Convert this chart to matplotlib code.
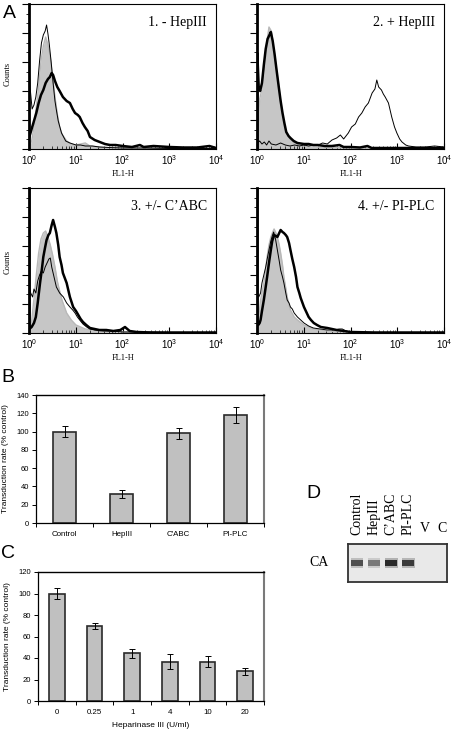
import numpy as np
import matplotlib
matplotlib.use("Agg")
import matplotlib.pyplot as plt
from matplotlib.ticker import MultipleLocator, LogLocator

plt.rcParams['font.family'] = 'sans-serif'
plt.rcParams['font.sans-serif'] = ['Liberation Sans', 'DejaVu Sans']
plt.rcParams['font.serif'] = ['Liberation Serif', 'DejaVu Serif']
plt.rcParams['mathtext.fontset'] = 'stix'

W, H = 453, 732

# --- panel A: flow histograms (FL1-H in decades, counts) ---
a1_gray_x = [0.0, 0.05, 0.1, 0.15, 0.2, 0.25, 0.3, 0.35, 0.4, 0.45, 0.5, 0.55, 0.6, 0.65, 0.7, 0.8, 0.9, 1.0, 1.1, 1.2, 1.3, 1.5, 1.8, 2.2, 3.0, 4.0]
a1_gray_y = [2, 8, 22, 42, 62, 88, 103, 112, 104, 92, 72, 52, 35, 22, 15, 8, 5, 4, 5, 6, 3, 2, 1, 1, 0.5, 0.5]
a1_thin_x = [0.0, 0.02, 0.06, 0.1, 0.14, 0.18, 0.22, 0.26, 0.3, 0.34, 0.37, 0.4, 0.43, 0.47, 0.51, 0.55, 0.58, 0.62, 0.69, 0.78, 0.87, 1.0, 1.1, 1.2, 1.35, 1.5, 1.7, 2.0, 2.5, 3.0, 3.5, 4.0]
a1_thin_y = [82, 60, 40, 44, 52, 66, 88, 106, 114, 118, 124, 115, 104, 86, 66, 48, 39, 28, 16, 8, 6, 4, 4, 3, 3, 2, 1.5, 1, 1, 0.5, 0.5, 0.5]
a1_thick_x = [0.0, 0.05, 0.1, 0.15, 0.2, 0.25, 0.3, 0.35, 0.4, 0.44, 0.48, 0.51, 0.55, 0.6, 0.65, 0.72, 0.8, 0.87, 0.93, 0.98, 1.04, 1.08, 1.14, 1.19, 1.25, 1.3, 1.4, 1.51, 1.62, 1.73, 1.85, 2.0, 2.2, 2.37, 2.45, 2.66, 3.0, 3.3, 3.6, 3.86, 4.0]
a1_thick_y = [12, 20, 28, 36, 46, 54, 59, 66, 70, 72, 76, 74, 68, 62, 58, 52, 48, 46, 40, 36, 34, 32, 26, 22, 18, 12, 9, 7, 5, 4, 4, 3, 2, 4, 2, 3, 2, 1.5, 1.5, 3, 1]

a2_gray_x = [0.0, 0.05, 0.1, 0.15, 0.2, 0.25, 0.3, 0.35, 0.4, 0.45, 0.5, 0.55, 0.6, 0.65, 0.7, 0.8, 0.9, 1.0, 1.2, 1.5, 2.0, 3.0, 4.0]
a2_gray_y = [10, 50, 60, 80, 105, 122, 118, 100, 84, 66, 48, 32, 20, 14, 10, 6, 4, 3, 2, 1.5, 1, 0.5, 0.5]
a2_thin_x = [0.0, 0.05, 0.1, 0.15, 0.2, 0.25, 0.3, 0.4, 0.5, 0.6, 0.7, 0.8, 0.9, 1.0, 1.1, 1.2, 1.3, 1.4, 1.5, 1.6, 1.7, 1.78, 1.85, 1.95, 2.02, 2.1, 2.17, 2.24, 2.31, 2.38, 2.46, 2.52, 2.56, 2.6, 2.66, 2.7, 2.74, 2.81, 2.88, 2.94, 2.99, 3.05, 3.1, 3.18, 3.24, 3.4, 3.6, 3.8, 4.0]
a2_thin_y = [6, 8, 5, 7, 4, 8, 5, 4, 6, 4, 3, 4, 3, 4, 3, 4, 4, 6, 5, 9, 11, 14, 10, 16, 22, 25, 32, 36, 42, 46, 56, 60, 69, 62, 59, 55, 52, 46, 32, 22, 16, 10, 7, 4, 3, 2, 2, 3, 2]
a2_thick_x = [0.0, 0.0, 0.03, 0.06, 0.1, 0.14, 0.18, 0.22, 0.26, 0.29, 0.33, 0.37, 0.41, 0.46, 0.5, 0.54, 0.58, 0.62, 0.67, 0.71, 0.78, 0.86, 1.0, 1.1, 1.2, 1.3, 1.45, 1.6, 1.76, 1.85, 2.0, 2.2, 2.36, 2.45, 2.9, 3.3, 3.7, 4.0]
a2_thick_y = [0, 96, 62, 58, 66, 84, 100, 110, 114, 117, 108, 95, 80, 62, 48, 36, 26, 17, 13, 11, 8, 6, 5, 5, 4, 4, 3, 3, 4, 2, 2, 1.5, 3, 1, 1, 1, 1, 1]

a3_gray_x = [0.0, 0.05, 0.1, 0.15, 0.2, 0.25, 0.3, 0.35, 0.4, 0.45, 0.5, 0.55, 0.6, 0.65, 0.7, 0.8, 0.9, 1.0, 1.1, 1.2, 1.4, 1.6, 2.0, 3.0, 4.0]
a3_gray_y = [4, 12, 34, 58, 80, 94, 100, 102, 96, 88, 78, 66, 52, 42, 33, 20, 13, 8, 6, 4, 3, 2, 1, 0.5, 0.5]
a3_thin_x = [0.0, 0.03, 0.07, 0.1, 0.14, 0.18, 0.22, 0.26, 0.3, 0.34, 0.38, 0.42, 0.45, 0.48, 0.53, 0.58, 0.65, 0.73, 0.8, 0.87, 0.93, 0.98, 1.03, 1.08, 1.15, 1.23, 1.3, 1.4, 1.6, 1.8, 2.0, 2.5, 3.0, 4.0]
a3_thin_y = [46, 40, 36, 44, 40, 52, 58, 62, 60, 66, 70, 74, 75, 66, 56, 46, 40, 36, 30, 26, 23, 20, 16, 13, 9, 6, 4, 3, 2, 2, 1, 1, 0.5, 0.5]
a3_thick_x = [0.0, 0.0, 0.05, 0.1, 0.14, 0.18, 0.23, 0.27, 0.3, 0.34, 0.37, 0.41, 0.44, 0.48, 0.51, 0.55, 0.58, 0.62, 0.65, 0.69, 0.72, 0.76, 0.8, 0.87, 0.94, 1.0, 1.05, 1.1, 1.15, 1.22, 1.3, 1.4, 1.5, 1.65, 1.8, 1.95, 2.05, 2.15, 2.3, 2.6, 3.0, 4.0]
a3_thick_y = [150, 4, 6, 10, 16, 30, 50, 64, 76, 86, 93, 98, 100, 108, 113, 106, 100, 88, 76, 68, 60, 55, 50, 36, 26, 22, 18, 14, 11, 8, 5, 4, 3, 3, 2, 3, 6, 2, 1, 0.5, 0.5, 0.5]

a4_gray_x = [0.0, 0.03, 0.07, 0.1, 0.14, 0.18, 0.21, 0.25, 0.29, 0.33, 0.36, 0.4, 0.43, 0.47, 0.5, 0.54, 0.57, 0.61, 0.64, 0.68, 0.71, 0.79, 0.86, 1.0, 1.1, 1.2, 1.35, 1.5, 1.8, 2.2, 3.0, 4.0]
a4_gray_y = [4, 16, 33, 40, 50, 64, 76, 88, 96, 101, 104, 100, 96, 88, 80, 68, 56, 45, 36, 28, 23, 16, 13, 8, 6, 4, 3, 2, 1, 1, 0.5, 0.5]
a4_thin_x = [0.0, 0.03, 0.07, 0.1, 0.14, 0.18, 0.22, 0.25, 0.29, 0.32, 0.35, 0.39, 0.43, 0.47, 0.5, 0.54, 0.57, 0.61, 0.64, 0.68, 0.71, 0.75, 0.79, 0.86, 0.93, 1.0, 1.1, 1.2, 1.35, 1.5, 1.65, 1.75, 1.82, 1.9, 2.0, 2.5, 3.0, 4.0]
a4_thin_y = [40, 36, 40, 50, 58, 66, 76, 83, 92, 97, 101, 94, 83, 72, 63, 56, 50, 40, 33, 30, 26, 24, 20, 16, 13, 10, 7, 5, 4, 3, 3, 4, 4, 2, 1, 0.5, 0.5, 0.5]
a4_thick_x = [0.0, 0.0, 0.02, 0.05, 0.07, 0.1, 0.14, 0.18, 0.21, 0.25, 0.29, 0.32, 0.36, 0.4, 0.43, 0.47, 0.5, 0.54, 0.57, 0.61, 0.64, 0.68, 0.71, 0.75, 0.79, 0.83, 0.86, 0.9, 0.93, 1.0, 1.05, 1.1, 1.15, 1.21, 1.28, 1.36, 1.5, 1.6, 1.7, 1.85, 2.0, 2.5, 3.0, 4.0]
a4_thick_y = [150, 10, 8, 10, 13, 22, 33, 46, 56, 70, 83, 92, 98, 97, 96, 100, 103, 101, 100, 98, 96, 90, 83, 74, 66, 56, 46, 40, 35, 26, 21, 16, 13, 10, 8, 6, 5, 4, 3, 2, 1, 0.5, 0.5, 0.5]

a_titles = ['1. - HepIII', '2. + HepIII', '3. +/- C\u2019ABC', '4. +/- PI-PLC']

# --- panel B ---
b_labels = ['Control', 'HepIII', "C'ABC", 'PI-PLC']
b_values = [100, 32, 98, 118]
b_errors = [6, 4.5, 5.7, 8.4]

# --- panel C ---
c_labels = ['0', '0.25', '1', '4', '10', '20']
c_values = [100, 69.5, 44.5, 36.5, 36.5, 27.5]
c_errors = [5, 2.8, 4.2, 7, 5.1, 3.1]

# --- panel D: western blot ---
d_lanes = ['Control', 'HepIII', 'C\u2019ABC', 'PI-PLC', 'V', 'C']
d_band = [0.62, 0.42, 0.8, 0.72, 0.0, 0.0]


def box(x0, y0, x1, y1):
    return [x0 / W, 1 - y1 / H, (x1 - x0) / W, (y1 - y0) / H]


fig = plt.figure(figsize=(W / 100, H / 100), dpi=100)


def hist_panel(rect, gray, thin, thick, title, counts_y):
    ax = fig.add_axes(box(*rect))
    gx = 10 ** np.array(gray[0])
    ax.fill_between(gx, gray[1], color='#c6c6c6', lw=0)
    ax.plot(gx, gray[1], color='#b8b8b8', lw=1.0)
    ax.plot(10 ** np.array(thin[0]), thin[1], color='k', lw=0.7)
    ax.plot(10 ** np.array(thick[0]), thick[1], color='k', lw=1.8)
    ax.set_xscale('log')
    ax.set_xlim(1, 1e4)
    ax.set_ylim(0, 145)
    ax.set_xticks([1, 10, 100, 1000, 10000])
    ax.xaxis.set_minor_locator(LogLocator(base=10, subs=np.arange(2, 10)))
    ax.yaxis.set_major_locator(MultipleLocator(29))
    ax.yaxis.set_minor_locator(MultipleLocator(29 / 3))
    ax.tick_params(axis='y', which='major', direction='out', length=5, width=0.8, labelleft=False)
    ax.tick_params(axis='y', which='minor', direction='out', length=2.5, width=0.6)
    ax.tick_params(axis='x', which='major', direction='in', length=4, width=0.8, labelsize=7, pad=3)
    ax.tick_params(axis='x', which='minor', direction='in', length=2, width=0.5)
    for s in ['top', 'right', 'bottom']:
        ax.spines[s].set_linewidth(0.8)
    ax.spines['left'].set_linewidth(2.0)
    ax.text(0.95, 0.875, title, transform=ax.transAxes, ha='right', va='center',
            family='serif', fontsize=10)
    ax.text(0.5, -0.17, 'FL1-H', transform=ax.transAxes, ha='center', va='center',
            family='serif', fontsize=6)
    if counts_y is not None:
        fig.text(7.5 / W, 1 - counts_y / H, 'Counts', rotation=90, ha='center', va='center',
                 family='serif', fontsize=6)
    return ax


hist_panel((29.3, 4, 216, 149), (a1_gray_x, a1_gray_y), (a1_thin_x, a1_thin_y),
           (a1_thick_x, a1_thick_y), a_titles[0], 74)
hist_panel((257.3, 4, 444, 149), (a2_gray_x, a2_gray_y), (a2_thin_x, a2_thin_y),
           (a2_thick_x, a2_thick_y), a_titles[1], None)
hist_panel((29.3, 188, 216, 333), (a3_gray_x, a3_gray_y), (a3_thin_x, a3_thin_y),
           (a3_thick_x, a3_thick_y), a_titles[2], 262)
hist_panel((257.3, 188, 444, 333), (a4_gray_x, a4_gray_y), (a4_thin_x, a4_thin_y),
           (a4_thick_x, a4_thick_y), a_titles[3], None)


def bar_panel(rect, labels, values, errors, ymax, xlabel=None):
    ax = fig.add_axes(box(*rect))
    x = np.arange(len(labels))
    ax.bar(x, values, width=0.42, color='#c0c0c0', edgecolor='#2a2a2a', linewidth=1.2)
    ax.errorbar(x, values, yerr=errors, fmt='none', ecolor='k', elinewidth=0.7,
                capsize=2.2, capthick=0.7)
    ax.set_xlim(-0.5, len(labels) - 0.5)
    ax.set_ylim(0, ymax)
    ax.yaxis.set_major_locator(MultipleLocator(20))
    ax.set_xticks(x)
    ax.set_xticklabels(labels)
    ax.set_xticks(np.arange(len(labels) + 1) - 0.5, minor=True)
    ax.tick_params(axis='x', which='major', length=0, labelsize=5.7, pad=6)
    ax.tick_params(axis='x', which='minor', direction='out', length=3, width=0.7)
    ax.tick_params(axis='y', direction='out', length=3, width=0.7, labelsize=5.5, pad=2)
    ax.spines['left'].set_linewidth(0.9)
    ax.spines['bottom'].set_linewidth(0.9)
    ax.spines['top'].set_linewidth(1.0)
    ax.spines['right'].set_color('#7a7a7a')
    ax.spines['right'].set_linewidth(1.5)
    ax.set_ylabel('Transduction rate (% control)', fontsize=6, labelpad=5)
    if xlabel:
        ax.set_xlabel(xlabel, fontsize=6, labelpad=4)
    return ax


bar_panel((36, 395, 264, 523), b_labels, b_values, b_errors, 140)
bar_panel((38, 572, 264, 701), c_labels, c_values, c_errors, 120, 'Heparinase III (U/ml)')

# blot
ax = fig.add_axes(box(348, 544, 447, 582))
ax.set_facecolor('#e9e9e9')
ax.set_xlim(-0.53, 5.29)
ax.set_ylim(0, 1)
lanes = np.arange(len(d_lanes))
for i, a in zip(lanes, d_band):
    if a > 0:
        ax.bar(i, 0.26, bottom=0.37, width=0.76, color='k', alpha=a * 0.3, lw=0)
        ax.bar(i, 0.14, bottom=0.43, width=0.66, color='k', alpha=a * 0.95, lw=0)
for i, lab in zip(lanes, d_lanes):
    rot = 90 if len(lab) > 1 else 0
    ax.text(i, 1.24, lab, rotation=rot, ha='center', va='bottom', family='serif',
            fontsize=10, transform=ax.get_xaxis_transform())
ax.set_xticks([])
ax.set_yticks([])
for s in ax.spines.values():
    s.set_color('#333333')
    s.set_linewidth(1.3)
fig.text(319 / W, 1 - 563 / H, 'CA', ha='center', va='center', family='serif', fontsize=10)

# panel letters
for lab, px, py in [('A', 9, 14), ('B', 8, 378), ('C', 8, 554), ('D', 313, 493)]:
    fig.text(px / W, 1 - py / H, lab, ha='center', va='center', fontsize=14)

plt.savefig('out.png', dpi=100)
